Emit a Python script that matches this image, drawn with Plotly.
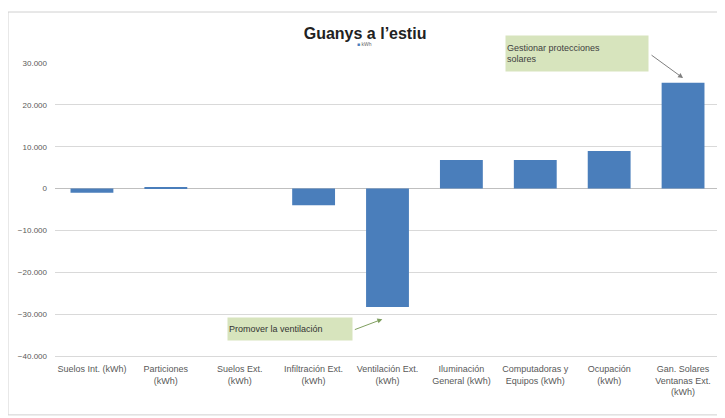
import plotly.graph_objects as go

categories = ['Suelos Int. (kWh)', 'Particiones<br>(kWh)', 'Suelos Ext.<br>(kWh)',
              'Infiltración Ext.<br>(kWh)', 'Ventilación Ext.<br>(kWh)',
              'Iluminación<br>General (kWh)', 'Computadoras y<br>Equipos (kWh)',
              'Ocupación<br>(kWh)', 'Gan. Solares<br>Ventanas Ext.<br>(kWh)']
values = [-1000, 300, 0, -4000, -28300, 6800, 6800, 9000, 25300]
tick_vals = [30000, 20000, 10000, 0, -10000, -20000, -30000, -40000]

font = 'Liberation Sans Narrow, Arial Narrow, sans-serif'
bar_color = '#4a7ebb'

fig = go.Figure()
fig.add_trace(go.Bar(x=categories, y=values, name='kWh',
                     marker=dict(color=bar_color, line=dict(width=0)),
                     width=0.58))

# tiny legend under the title
fig.add_annotation(xref='paper', yref='paper', x=0.466, y=1.065,
                   xanchor='center', yanchor='middle', showarrow=False,
                   text=f'<span style="color:{bar_color}">■</span> kWh',
                   font=dict(size=5, color='#666666', family=font))

# callouts
fig.add_annotation(xref='paper', yref='paper', x=0.785, y=1.032,
                   xanchor='center', yanchor='middle',
                   text='Gestionar protecciones<br>solares', showarrow=False,
                   align='left', width=140, height=33, bgcolor='#d7e4bd',
                   font=dict(size=9, color='#404040', family=font))
fig.add_annotation(x=8.0, y=26400, text='', showarrow=True, ax=-33, ay=-24,
                   arrowhead=2, arrowsize=1, arrowwidth=1, arrowcolor='#7f7f7f')
fig.add_annotation(xref='paper', yref='paper', x=0.353, y=0.092,
                   xanchor='center', yanchor='middle',
                   text='Promover la ventilación', showarrow=False,
                   align='left', width=122, height=20, bgcolor='#d7e4bd',
                   font=dict(size=9, color='#333333', family=font))
fig.add_annotation(x=3.93, y=-31200, text='', showarrow=True, ax=-29, ay=11,
                   arrowhead=2, arrowsize=1, arrowwidth=1, arrowcolor='#7f9f5f')

# chart border
fig.add_shape(type='rect', xref='paper', yref='paper',
              x0=-0.0707, x1=1.003, y0=-0.201, y1=1.174,
              line=dict(color='#d0d0d0', width=1))

fig.update_layout(
    width=717, height=410,
    margin=dict(l=47, r=5, t=55, b=62),
    paper_bgcolor='white', plot_bgcolor='white',
    separators=',.',
    title=dict(text='<b>Guanys a l’estiu</b>', x=0.498, xanchor='center',
               y=0.939, yanchor='middle',
               font=dict(size=16, color='#222222', family=font)),
    showlegend=False,
    font=dict(family=font, color='#595959', size=9),
)
fig.update_yaxes(range=[-40000, 30000], tickvals=tick_vals, tickformat=',d',
                 gridcolor='#d9d9d9', gridwidth=1, zeroline=True,
                 zerolinecolor='#bfbfbf', zerolinewidth=1,
                 showline=False, ticks='', tickfont=dict(size=8),
                 ticklabelstandoff=7, automargin=False)
fig.update_xaxes(showgrid=False, showline=True, linecolor='#d9d9d9',
                 ticks='', tickfont=dict(size=9), tickangle=0,
                 ticklabelstandoff=4, automargin=False)

fig.write_html('out.html')
